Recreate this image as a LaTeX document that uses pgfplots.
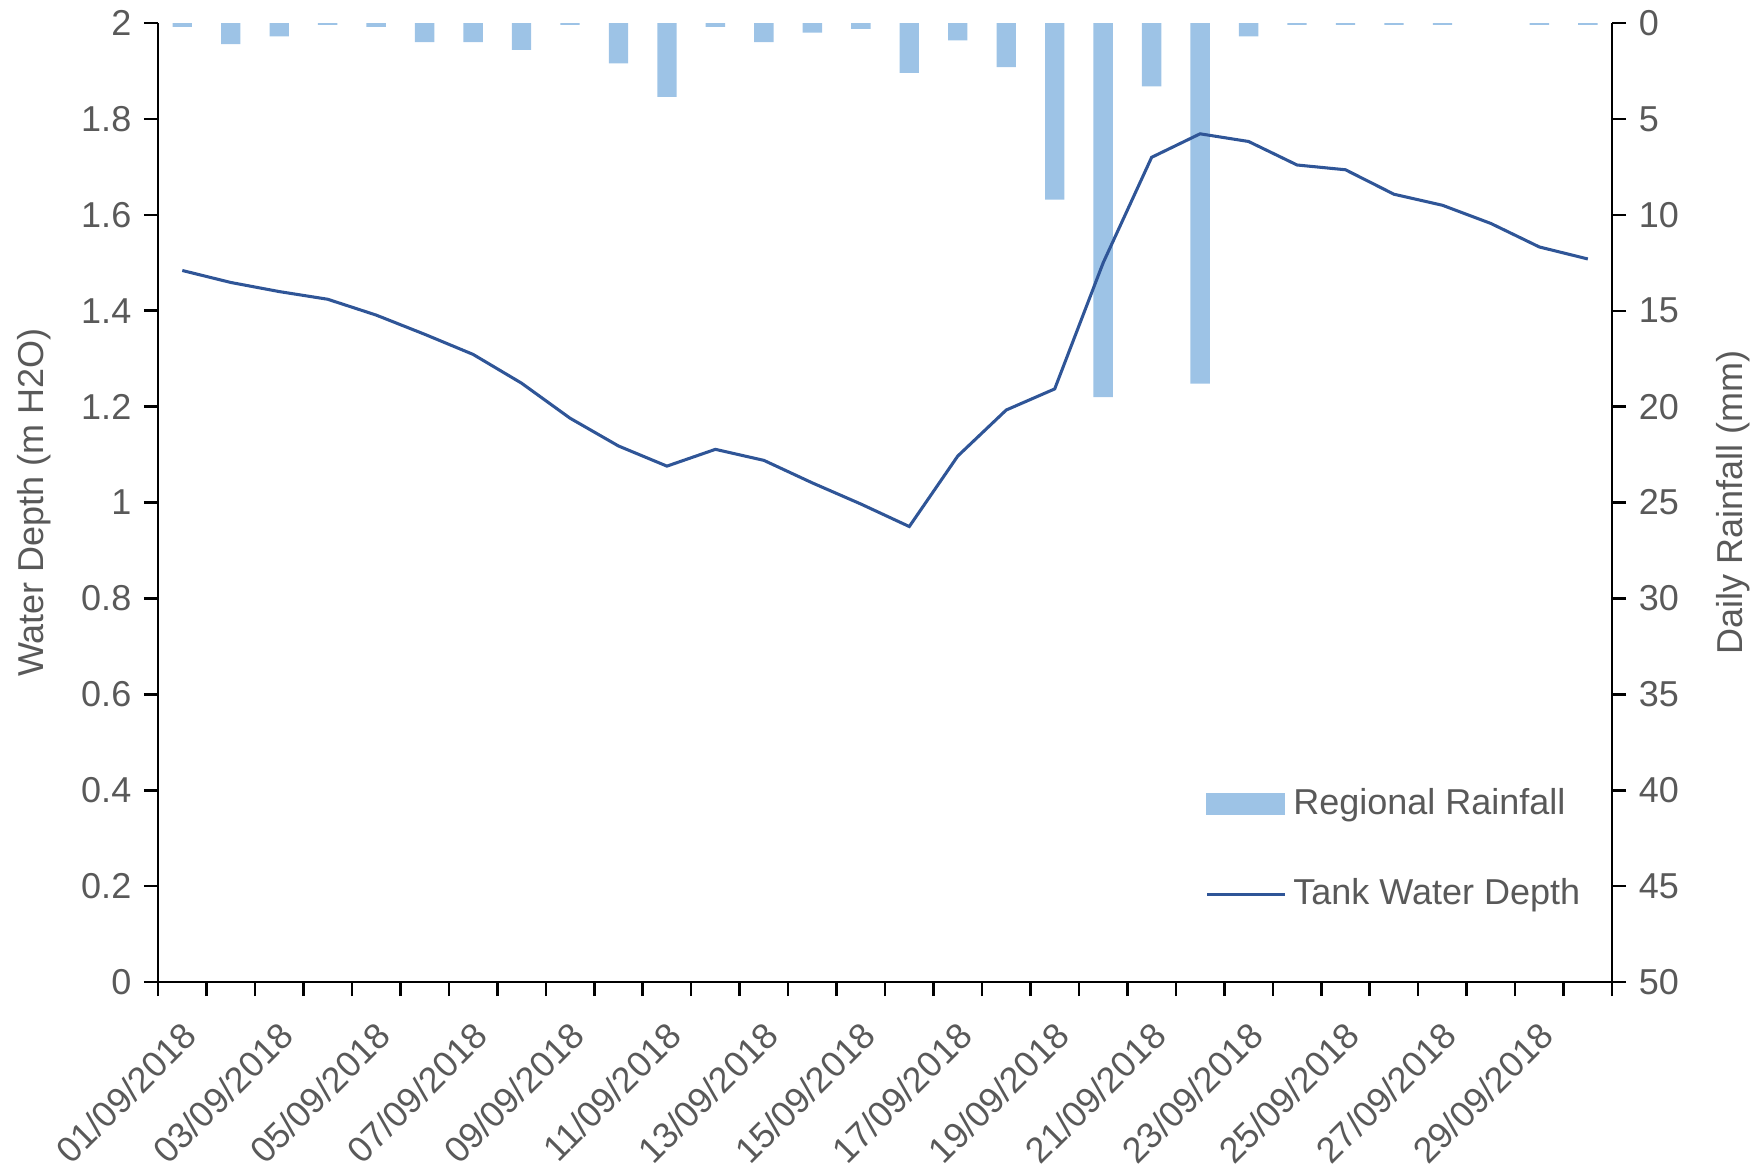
\documentclass[border=0pt]{standalone}
\usepackage{fontspec}
\setmainfont{Liberation Sans}
\usepackage{pgfplots}
\usepackage{pgfplotstable}
\pgfplotsset{compat=1.18}
\definecolor{txt}{HTML}{595959}
\definecolor{rain}{HTML}{9DC3E6}
\definecolor{tank}{HTML}{2F5597}

\pgfplotstableread{
day rain
1 0.2
2 1.1
3 0.7
4 0.1
5 0.2
6 1.0
7 1.0
8 1.4
9 0.1
10 2.1
11 3.85
12 0.2
13 1.0
14 0.5
15 0.3
16 2.6
17 0.9
18 2.3
19 9.2
20 19.5
21 3.3
22 18.8
23 0.7
24 0.1
25 0.1
26 0.1
27 0.1
29 0.1
30 0.1
}\raintable

\pgfplotstableread{
day depth
1 1.484
2 1.459
3 1.440
4 1.424
5 1.391
6 1.351
7 1.309
8 1.249
9 1.176
10 1.118
11 1.076
12 1.111
13 1.088
14 1.041
15 0.997
16 0.950
17 1.097
18 1.193
19 1.237
20 1.500
21 1.720
22 1.769
23 1.753
24 1.704
25 1.694
26 1.643
27 1.620
28 1.582
29 1.533
30 1.508
}\depthtable

\begin{document}
\begin{tikzpicture}
\pgfplotsset{
  common/.style={
    width=403.9pt, height=266.4pt, scale only axis,
    at={(0,0)}, anchor=south west,
    xmin=0.5, xmax=30.5,
    font=\fontsize{10}{12}\selectfont,
    tick label style={color=txt, font=\fontsize{10}{12}\selectfont},
    label style={color=txt, font=\fontsize{10}{12}\selectfont},
    /pgf/number format/assume math mode=true,
    axis line style={black, line width=0.7pt},
    tick style={black, line width=0.7pt},
    tick align=outside,
    major tick length=3.9pt,
    minor tick length=3.9pt,
  }
}
\begin{axis}[common,
  hide x axis,
  axis y line*=right,
  ymin=0, ymax=50, y dir=reverse,
  ytick={0,5,10,15,20,25,30,35,40,45,50},
  ylabel={Daily Rainfall (mm)},
  ylabel style={at={(axis description cs:1.0836,0.5)}, anchor=center},
  ybar, bar width=0.4,
]
\addplot[fill=rain, draw=none] table[x=day, y=rain]{\raintable};
\end{axis}
\begin{axis}[common,
  axis x line*=bottom,
  axis y line*=left,
  ymin=0, ymax=2,
  ytick={0,0.2,0.4,0.6,0.8,1,1.2,1.4,1.6,1.8,2},
  minor ytick={0,0.2,0.4,0.6,0.8,1,1.2,1.4,1.6,1.8,2},
  /pgf/number format/fixed,
  ylabel={Water Depth (m H2O)},
  ylabel style={at={(axis description cs:-0.0852,0.5)}, anchor=center},
  xtick={1,3,5,7,9,11,13,15,17,19,21,23,25,27,29},
  xticklabels={01/09/2018,03/09/2018,05/09/2018,07/09/2018,09/09/2018,11/09/2018,13/09/2018,15/09/2018,17/09/2018,19/09/2018,21/09/2018,23/09/2018,25/09/2018,27/09/2018,29/09/2018},
  minor xtick={0.5,1.5,...,30.5},
  major tick style={draw=none},
  minor tick style={black, line width=0.7pt},
  xticklabel style={rotate=45, anchor=north east, xshift=-1.5pt, yshift=-0.8pt},
  legend style={at={(rel axis cs:0.72,0.2103)}, anchor=north west, draw=none, fill=none,
    font=\fontsize{10}{12}\selectfont, text=txt, row sep=12.4pt, inner sep=0pt},
  legend cell align=left,
]
\addlegendimage{legend image code/.code={\fill[rain] (0pt,-2.8pt) rectangle (21.5pt,2.8pt);}}
\addlegendentry{Regional Rainfall}
\addplot[tank, line width=0.85pt, mark=none,
  legend image code/.code={\draw[tank, line width=0.85pt] (0pt,0pt) -- (21.5pt,0pt);}]
  table[x=day, y=depth]{\depthtable};
\addlegendentry{Tank Water Depth}
\end{axis}
\pgfresetboundingbox
\path[use as bounding box] (-43.9pt,-51.4pt) rectangle (443.6pt,272.8pt);
\end{tikzpicture}
\end{document}
